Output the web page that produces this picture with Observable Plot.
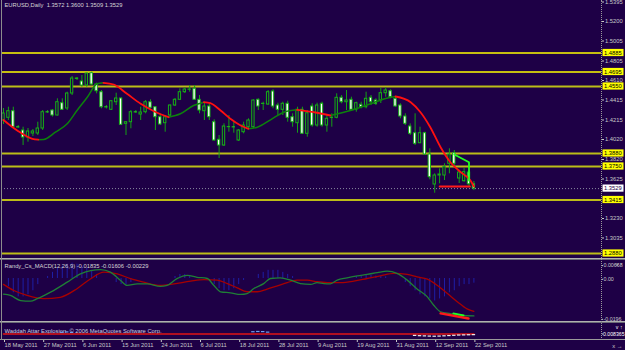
<!DOCTYPE html>
<html><head><meta charset="utf-8">
<script src="https://cdn.jsdelivr.net/npm/d3@7"></script>
<script src="https://cdn.jsdelivr.net/npm/@observablehq/plot@0.6"></script>
<style>
html,body{margin:0;padding:0;background:#1e0046;}
#wrap{position:relative;width:625px;height:350px;background:#1e0046;overflow:hidden;font-family:"Liberation Sans",Arial,sans-serif;}
.panel{position:absolute;left:0;}
.sep{position:absolute;left:0;width:625px;}
</style></head><body><div id="wrap"></div>
<script>
const BG = "#1e0046";
// ---- price candles (daily bars, index 0 = 18 May 2011) ----
const openP  = [1.4210,1.4237,1.4303,1.4143,1.4110,1.4040,1.4080,1.4080,1.4130,1.4293,1.4310,1.4260,1.4383,1.4330,1.4480,1.4630,1.4600,1.4560,1.4683,1.4570,1.4493,1.4343,1.4317,1.4393,1.4430,1.4177,1.4193,1.4293,1.4270,1.4293,1.4393,1.4343,1.4243,1.4183,1.4260,1.4360,1.4417,1.4493,1.4517,1.4527,1.4417,1.4303,1.4350,1.4193,1.4017,1.3960,1.4143,1.4143,1.4010,1.4093,1.4143,1.4143,1.4417,1.4377,1.4370,1.4500,1.4360,1.4317,1.4377,1.4243,1.4183,1.4317,1.4077,1.4350,1.4160,1.4377,1.4160,1.4237,1.4237,1.4437,1.4393,1.4417,1.4317,1.4367,1.4343,1.4437,1.4410,1.4410,1.4483,1.4503,1.4427,1.4360,1.4250,1.4150,1.4083,1.3983,1.4083,1.3870,1.3570,1.3660,1.3660,1.3777,1.3883,1.3630,1.3603,1.3690,1.3572];
const highP  = [1.4330,1.4343,1.4343,1.4160,1.4143,1.4130,1.4120,1.4193,1.4310,1.4310,1.4320,1.4427,1.4427,1.4493,1.4650,1.4640,1.4660,1.4683,1.4693,1.4583,1.4510,1.4360,1.4410,1.4483,1.4437,1.4197,1.4310,1.4310,1.4343,1.4410,1.4417,1.4345,1.4277,1.4260,1.4365,1.4430,1.4527,1.4535,1.4560,1.4560,1.4460,1.4393,1.4377,1.4217,1.4060,1.4177,1.4260,1.4193,1.4120,1.4193,1.4227,1.4417,1.4427,1.4393,1.4510,1.4517,1.4383,1.4393,1.4403,1.4277,1.4343,1.4343,1.4310,1.4377,1.4383,1.4393,1.4260,1.4277,1.4477,1.4460,1.4510,1.4443,1.4393,1.4393,1.4493,1.4460,1.4427,1.4530,1.4537,1.4517,1.4450,1.4377,1.4277,1.4177,1.4277,1.4143,1.4093,1.3927,1.3677,1.3727,1.3777,1.3927,1.3910,1.3700,1.3730,1.3710,1.3600];
const lowP   = [1.4170,1.4210,1.4127,1.4130,1.3960,1.3993,1.4050,1.4060,1.4110,1.4280,1.4245,1.4255,1.4310,1.4310,1.4460,1.4610,1.4543,1.4543,1.4560,1.4477,1.4327,1.4325,1.4310,1.4360,1.4160,1.4060,1.4127,1.4280,1.4210,1.4277,1.4327,1.4110,1.4160,1.4093,1.4243,1.4350,1.4410,1.4480,1.4493,1.4410,1.4277,1.4210,1.4210,1.4003,1.3830,1.3950,1.4093,1.4083,1.4000,1.4077,1.4127,1.4127,1.4310,1.4310,1.4360,1.4327,1.4260,1.4260,1.4193,1.4143,1.4083,1.4070,1.4043,1.4143,1.4143,1.4143,1.4093,1.4143,1.4227,1.4377,1.4310,1.4310,1.4293,1.4327,1.4327,1.4360,1.4360,1.4380,1.4443,1.4427,1.4343,1.4227,1.4160,1.4060,1.3960,1.3977,1.3860,1.3617,1.3483,1.3577,1.3610,1.3677,1.3760,1.3580,1.3593,1.3540,1.3509];
const closeP = [1.4280,1.4303,1.4143,1.4140,1.4040,1.4100,1.4100,1.4130,1.4293,1.4290,1.4260,1.4393,1.4317,1.4480,1.4630,1.4625,1.4560,1.4680,1.4570,1.4503,1.4343,1.4340,1.4403,1.4430,1.4167,1.4193,1.4293,1.4290,1.4290,1.4393,1.4337,1.4243,1.4170,1.4243,1.4360,1.4417,1.4493,1.4520,1.4520,1.4417,1.4310,1.4350,1.4243,1.4010,1.3960,1.4150,1.4145,1.4140,1.4110,1.4160,1.4210,1.4410,1.4350,1.4375,1.4493,1.4350,1.4317,1.4377,1.4237,1.4193,1.4317,1.4077,1.4283,1.4160,1.4360,1.4160,1.4227,1.4235,1.4437,1.4393,1.4410,1.4317,1.4383,1.4343,1.4427,1.4393,1.4377,1.4483,1.4510,1.4443,1.4350,1.4250,1.4177,1.4077,1.3977,1.4083,1.3870,1.3643,1.3660,1.3670,1.3743,1.3870,1.3777,1.3690,1.3693,1.3572,1.3529];
// ---- moving average (colour-changing) ----
const maX = [0,2.8,5.9,7.1,8.2,10.6,13,15,17.1,19.1,20.4,22.5,25.2,28,30.7,33.7,36.1,38.8,40.9,42.2,44.3,46.3,48.4,50,51.8,54.5,57.2,59.9,63.7,66.7,70.8,74.9,78,80,83.1,85.1,87.1,89.2,91.2,93.3,95.3,96];
const maY = [1.4215,1.4110,1.4027,1.4018,1.4020,1.4093,1.4177,1.4310,1.4443,1.4577,1.4587,1.4570,1.4477,1.4377,1.4303,1.4243,1.4277,1.4360,1.4393,1.4383,1.4310,1.4227,1.4160,1.4127,1.4143,1.4217,1.4293,1.4317,1.4290,1.4260,1.4310,1.4377,1.4430,1.4450,1.4393,1.4293,1.4143,1.3943,1.3793,1.3693,1.3610,1.3550];
// ---- horizontal levels ----
const levelsBright = [1.4885, 1.4695];
const levelsOlive  = [1.4550, 1.3880, 1.3750, 1.3415, 1.2880];
const lastPrice = 1.3529;
const priceTicks = [1.5395,1.5200,1.5005,1.4805,1.4610,1.4415,1.4215,1.4020,1.3820,1.3625,1.3230,1.3035];
// ---- pattern annotations ----
const annLimeX = [92, 95, 95], annLimeY = [1.3870, 1.3793, 1.3610];
const annRedX = [89, 95.2], annRedY = [1.3550, 1.3550];
// ---- MACD ----
const macdX = [0,1.4,3.5,5.5,6.9,9.6,13,15.7,17.8,19.8,21.8,23.9,25.2,27.3,29.3,32,33.4,35.4,37.5,39.5,41.6,42.9,44.3,46.3,48.4,49.7,51.1,53.1,54.5,56.5,58.6,60.6,62.7,64,65.4,66.7,68.1,70.1,72.2,74.2,76.3,78.3,80.3,82.4,84.4,86.5,87.8,89.2,91.2,93.3,96];
const macdV = [-0.0077,-0.0083,-0.0108,-0.0111,-0.0099,-0.0067,-0.0018,0.0023,0.0039,0.0043,0.0031,-0.0010,-0.0034,-0.0026,-0.0026,-0.0039,-0.0034,-0.0001,0.0015,0.0006,0,-0.0033,-0.0065,-0.0070,-0.0078,-0.0074,-0.0049,-0.0025,0,0.0003,-0.0008,-0.0025,-0.0029,-0.0020,-0.0025,-0.0026,-0.0008,0.0003,0.0013,0.0020,0.0029,0.0036,0.0025,-0.0008,-0.0051,-0.0090,-0.0131,-0.0163,-0.0172,-0.0180,-0.01835];
const sigX = [0,2.1,4.8,8.2,11.6,15,17.8,20.5,23.2,25.9,28.6,32,34.8,38.2,40.9,43.6,45.7,47.7,49.7,51.8,53.8,55.9,57.9,59.9,62,64,66.1,68.8,71.5,74.2,76.9,79.7,82.4,84.4,86.5,88.5,90.6,92.6,94.6,96];
const sigV = [-0.0029,-0.0059,-0.0083,-0.0099,-0.0092,-0.0050,-0.0001,0.0031,0.0023,-0.0001,-0.0018,-0.0034,-0.0026,-0.0013,-0.0006,-0.0008,-0.0025,-0.0046,-0.0065,-0.0065,-0.0052,-0.0036,-0.0020,-0.0008,-0.0008,-0.0016,-0.0020,-0.0020,-0.0013,0,0.0013,0.0025,0.0020,0.0008,-0.0003,-0.0033,-0.0074,-0.0114,-0.0149,-0.01606];
const histX = [1,2,3,4,5,6,7, 9,10,11,12,13,14,15,16,17,18,19, 23,24,25,26, 35,36,37,38, 43,44,45,46,47,48,49, 52,53,54,55,56,57,58,59, 72,73,74,75,76,77,78, 82,83,84,85,86,87,88,89,90,91,92,93,94,95,96];
const histV = [-0.004,-0.007,-0.009,-0.009,-0.008,-0.006,-0.003, 0.001,0.003,0.005,0.006,0.007,0.0075,0.007,0.006,0.005,0.004,0.002, -0.002,-0.003,-0.003,-0.002, 0.001,0.002,0.002,0.001, -0.003,-0.005,-0.006,-0.006,-0.005,-0.003,-0.001, 0.002,0.003,0.004,0.004,0.004,0.003,0.002,0.001, 0.001,0.0012,0.0015,0.0015,0.0012,0.001,0.0008, -0.002,-0.004,-0.006,-0.008,-0.009,-0.010,-0.011,-0.010,-0.009,-0.007,-0.006,-0.004,-0.003,-0.003,-0.00229];
const macdTicks = [0.00668, 0, -0.0196];
const macdTickText = ["0.00668", "0.00", "-0.0196"];
const macdAnnRedX = [89.2, 94.9], macdAnnRedV = [-0.0171, -0.0196];
const macdAnnLimeX = [91.8, 93.9], macdAnnLimeV = [-0.0171, -0.0181];
// ---- lower indicator ----
const deadZoneX = [0, 96], deadZoneV = [0.008365, 0.008365];
const explX = [84,85,86,87,88,89,90,91,92,93,94,95,96];
const explV = [0.0062,0.0058,0.0055,0.0052,0.0050,0.0052,0.0056,0.0060,0.0064,0.0068,0.0070,0.0072,0.0074];
const blueX = [12,13,14,51,52,53,54];
const blueV = [0.0110,0.0115,0.0108,0.0118,0.0122,0.0120,0.0112];
// ---- date axis ----
const dateTicks = [0,8,16,24,32,40,48,56,64,72,80,88,96];
const dateLabels = ["18 May 2011","27 May 2011","6 Jun 2011","15 Jun 2011","24 Jun 2011","6 Jul 2011","18 Jul 2011","28 Jul 2011","9 Aug 2011","19 Aug 2011","31 Aug 2011","12 Sep 2011","22 Sep 2011"];
const header = "EURUSD,Daily  1.3572 1.3600 1.3509 1.3529";
const macdHeader = "Randy_Cs_MACD(12,26,9) -0.01835 -0.01606 -0.00229";
const lowerHeader = "Waddah Attar Explosion  \u00a9 2006 MetaQuotes Software Corp.";

// ---------------- build ----------------
const FONT = "Liberation Sans, Arial, sans-serif";
const FS = "5.8px";
const xOpt = {domain: [0, 96], range: [3, 473.4], axis: null};
const baseStyle = {background: "transparent", color: "#c8c8c8", fontFamily: FONT, fontSize: FS, overflow: "visible"};

const bars = openP.map((o, i) => ({i, o, h: highP[i], l: lowP[i], c: closeP[i]}));

const maPts = maX.map((x, k) => ({x, y: maY[k]}));
const runs = []; let cur = [maPts[0]]; let dir = null;
for (let k = 1; k < maPts.length; k++) {
  const up = maPts[k].y >= maPts[k-1].y;
  if (dir === null || up === dir) cur.push(maPts[k]);
  else { runs.push({up: dir, pts: cur}); cur = [maPts[k-1], maPts[k]]; }
  dir = up;
}
runs.push({up: dir, pts: cur});
const maLine = runs.flatMap((r, j) => r.pts.map(p => ({...p, seg: j, up: r.up})));

const wrap = document.getElementById("wrap");
function place(el, top) { el.classList.add("panel"); el.style.top = top + "px"; wrap.appendChild(el); return el; }

const main = Plot.plot({
  width: 625, height: 259, marginLeft: 1, marginRight: 24, marginTop: 0, marginBottom: 0,
  style: baseStyle,
  x: xOpt,
  y: {domain: [1.282, 1.541], axis: null},
  marks: [
    Plot.ruleY(levelsOlive, {stroke: "#bcbc18", strokeWidth: 2}),
    Plot.ruleY(levelsBright, {stroke: "#ffff00", strokeWidth: 1.3}),
    Plot.ruleY([lastPrice], {stroke: "#8a8aa0", strokeWidth: 1, strokeDasharray: "1,2"}),
    Plot.ruleX(bars, {x: "i", y1: "l", y2: "h", stroke: "#14a014", strokeWidth: 1}),
    Plot.rect(bars, {x1: d => d.i - 0.24, x2: d => d.i + 0.24, y1: d => Math.min(d.o, d.c), y2: d => Math.max(d.o, d.c),
      fill: d => d.c < d.o ? "#ffffff" : BG, stroke: "#16b016", strokeWidth: 1}),
    Plot.line(maLine.filter(d => d.up), {x: "x", y: "y", z: "seg", stroke: "#0c820c", strokeWidth: 1.5, curve: "monotone-x"}),
    Plot.line(maLine.filter(d => !d.up), {x: "x", y: "y", z: "seg", stroke: "#ff1010", strokeWidth: 1.8, curve: "monotone-x"}),
    Plot.line(annLimeX.map((x, k) => ({x, y: annLimeY[k]})), {x: "x", y: "y", stroke: "#22ff22", strokeWidth: 1.8}),
    Plot.line(annRedX.map((x, k) => ({x, y: annRedY[k]})), {x: "x", y: "y", stroke: "#ff1a1a", strokeWidth: 1.8}),
    Plot.axisY(priceTicks, {anchor: "right", tickSize: 2, tickPadding: 1.5, tickFormat: d => d.toFixed(4)}),
    Plot.text([header], {frameAnchor: "top-left", dx: 3, dy: 2.5, lineAnchor: "top", textAnchor: "start", fill: "#d6d6d6"})
  ]
});
place(main, 0);
{
  const ys = main.scale("y");
  const svg = d3.select(main);
  const g = svg.append("g").attr("text-anchor", "start");
  const boxes = levelsBright.concat(levelsOlive).map(v => ({v, fill: "#ffff00", text: "#000000"}))
    .concat([{v: lastPrice, fill: "#ffffff", text: "#1e0046"}]);
  for (const b of boxes) {
    const y = ys.apply(b.v);
    g.append("rect").attr("x", 602.5).attr("y", y - 3.6).attr("width", 21).attr("height", 7.2).attr("fill", b.fill);
    g.append("text").attr("x", 604).attr("y", y).attr("dy", "0.35em").attr("fill", b.text).attr("text-anchor", "start")
      .attr("font-size", FS).attr("font-family", FONT).text(b.v.toFixed(4));
  }
}

const macdPlot = Plot.plot({
  width: 625, height: 63, marginLeft: 1, marginRight: 24, marginTop: 0, marginBottom: 0,
  style: baseStyle,
  x: xOpt,
  y: {domain: [-0.02156, 0.00931], axis: null},
  marks: [
    Plot.ruleX(histX.map((x, k) => ({x, v: histV[k]})), {x: "x", y1: d => 0, y2: "v", stroke: "#1e1ea6", strokeWidth: 1}),
    Plot.line(sigX.map((x, k) => ({x, v: sigV[k]})), {x: "x", y: "v", stroke: "#a80000", strokeWidth: 1.3, curve: "monotone-x"}),
    Plot.line(macdX.map((x, k) => ({x, v: macdV[k]})), {x: "x", y: "v", stroke: "#1f7f36", strokeWidth: 1.3, curve: "monotone-x"}),
    Plot.line(macdAnnRedX.map((x, k) => ({x, v: macdAnnRedV[k]})), {x: "x", y: "v", stroke: "#ff1a1a", strokeWidth: 2.4}),
    Plot.line(macdAnnLimeX.map((x, k) => ({x, v: macdAnnLimeV[k]})), {x: "x", y: "v", stroke: "#22ff22", strokeWidth: 1.8}),
    Plot.axisY(macdTicks, {anchor: "right", tickSize: 1, tickPadding: 1, fontSize: 5.3, dy: 0.8, tickFormat: d => macdTickText[macdTicks.indexOf(d)]}),
    Plot.text([macdHeader], {frameAnchor: "top-left", dx: 3, dy: 4.5, lineAnchor: "top", textAnchor: "start", fill: "#d6d6d6"})
  ]
});
place(macdPlot, 259);

const lower = Plot.plot({
  width: 625, height: 28, marginLeft: 1, marginRight: 24, marginTop: 1, marginBottom: 11,
  style: baseStyle,
  x: xOpt,
  y: {domain: [0, 0.0243], axis: null},
  marks: [
    Plot.text([lowerHeader], {frameAnchor: "top-left", dx: 3, dy: 5, lineAnchor: "top", textAnchor: "start", fill: "#d0d0e0"}),
    Plot.line(deadZoneX.map((x, k) => ({x, v: deadZoneV[k]})), {x: "x", y: "v", stroke: "#e01414", strokeWidth: 1.6}),
    Plot.ruleY(explX.map((x, k) => ({x, v: explV[k]})), {x1: d => d.x - 0.35, x2: d => d.x + 0.35, y: "v", stroke: "#f0f0f0", strokeWidth: 1.2}),
    Plot.ruleY(blueX.map((x, k) => ({x, v: blueV[k]})), {x1: d => d.x - 0.35, x2: d => d.x + 0.35, y: "v", stroke: "#6fa0f0", strokeWidth: 1.2}),
    Plot.axisY([0.008365], {anchor: "right", tickSize: 1, tickPadding: 0.5, fontSize: 5.2, tickFormat: d => d.toFixed(6), fill: "#ffffff"}),
    Plot.axisX(dateTicks, {anchor: "bottom", tickSize: 3, tickPadding: 0.5, textAnchor: "start", dx: 1,
      tickFormat: d => dateLabels[dateTicks.indexOf(d)]})
  ]
});
place(lower, 322);

// frame / separators
function sep(top, h, color) { const d = document.createElement("div"); d.className = "sep"; d.style.top = top + "px"; d.style.height = h + "px"; d.style.background = color; wrap.appendChild(d); }
sep(258, 1, "#b0b0b0"); sep(259, 1, "#6c6c78");
sep(321, 1, "#b0b0b0"); sep(322, 1, "#6c6c78");
sep(339, 1, "#9a9a9a");
const lb = document.createElement("div");
lb.style.cssText = "position:absolute;left:1px;top:0;width:1px;height:340px;background:#8c8c8c;";
wrap.appendChild(lb);
const rb = document.createElement("div");
rb.style.cssText = "position:absolute;left:601px;top:0;width:0;height:340px;border-left:1px dotted #9a9a9a;";
wrap.appendChild(rb);
</script></body></html>
